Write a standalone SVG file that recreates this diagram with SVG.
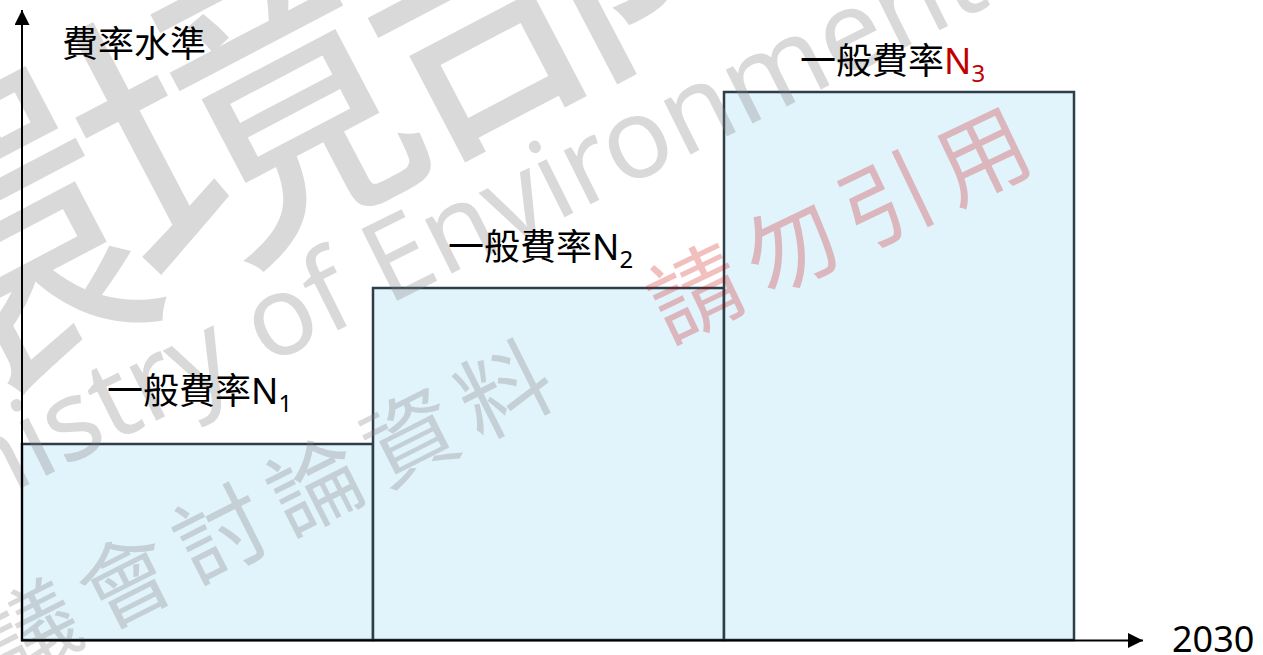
<svg xmlns="http://www.w3.org/2000/svg" width="1263" height="655" viewBox="0 0 1263 655">
  <style>
    .box { fill: #e1f3fb; stroke: #2e3d47; stroke-width: 2.5; }
    .lbl { font-family: "Noto Sans", "Noto Sans CJK TC", sans-serif; font-size: 36px; fill: #000000; }
    .sub { font-size: 24px; }
    .axis { stroke: #000000; stroke-width: 2; fill: none; }
    .wm { font-family: "Noto Sans CJK TC", sans-serif; fill: #808080; fill-opacity: 0.3; }
    .wmen { font-family: "Noto Sans", sans-serif; fill: #808080; fill-opacity: 0.3; }
    .wmred { font-family: "Noto Sans CJK TC", sans-serif; fill: #cc0000; fill-opacity: 0.25; }
  </style>
  <defs>
    <marker id="arr" viewBox="0 0 10 10" refX="10" refY="5" markerWidth="7.5" markerHeight="7.5" markerUnits="strokeWidth" orient="auto">
      <path d="M0,0 L10,5 L0,10 Z" fill="#000000"/>
    </marker>
  </defs>
  <rect width="1263" height="655" fill="#ffffff"/>

  <g id="bar1"><rect class="box" x="22" y="444" width="351" height="196"/></g>
  <g id="bar2"><rect class="box" x="373" y="288" width="351" height="352"/></g>
  <g id="bar3"><rect class="box" x="724" y="92" width="350" height="548"/></g>

  <g id="watermark">
    <text class="wm" font-weight="400" font-size="330" letter-spacing="-25" transform="translate(-30,254) rotate(-27.7)" x="-165" y="125">環境部</text>
    <text class="wmen" font-size="112" transform="translate(-141,569) rotate(-26.5)">Ministry of Environment</text>
    <text class="wm" font-size="92" letter-spacing="14" transform="translate(31,628) rotate(-26.8)" x="-46" y="35">議會討論資料</text>
    <text class="wmred" font-size="92" letter-spacing="14" transform="translate(695,292) rotate(-25.6)" x="-46" y="35">請勿引用</text>
  </g>

  <g id="connectors">
    <line class="axis" x1="22" y1="641" x2="22" y2="10" marker-end="url(#arr)"/>
    <line class="axis" x1="21" y1="640.5" x2="1143" y2="640.5" marker-end="url(#arr)"/>
  </g>

  <g id="ylabel"><text class="lbl" x="62" y="57">費率水準</text></g>
  <g id="label1"><text class="lbl" x="107" y="404">一般費率N<tspan class="sub" dy="8">1</tspan></text></g>
  <g id="label2"><text class="lbl" x="448" y="260">一般費率N<tspan class="sub" dy="8">2</tspan></text></g>
  <g id="label3"><text class="lbl" x="800" y="74">一般費率<tspan fill="#c00000">N<tspan class="sub" dy="8">3</tspan></tspan></text></g>
  <g id="xlabel"><text class="lbl" x="1172" y="652" font-size="37">2030</text></g>
</svg>
